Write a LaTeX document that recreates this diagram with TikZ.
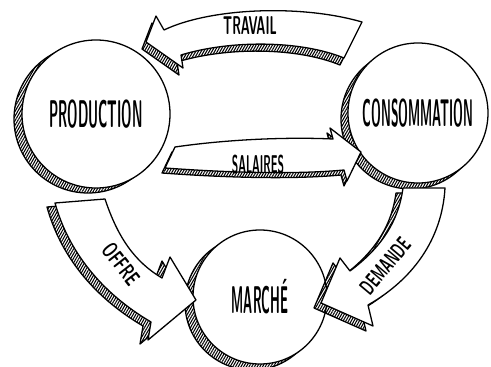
\documentclass[tikz,border=0pt]{standalone}
\usetikzlibrary{patterns.meta}
\tikzset{
  ink/.style={line width=1.1pt, line join=round},
  hatch/.style={ink, pattern={Lines[angle=60,distance=2pt,line width=0.9pt]}},
  face/.style={ink, fill=white},
  bubble/.style={circle, draw, ink, fill=white, inner sep=0pt, font=\fontsize{33}{33}\selectfont\sffamily\bfseries},
  lbl/.style={inner sep=0pt, font=\fontsize{22}{22}\selectfont\sffamily\bfseries}
}
\begin{document}
\begin{tikzpicture}[x=0.03cm,y=-0.03cm]
\useasboundingbox (0,0) rectangle (491,367);
\fill[white] (0,0) rectangle (491,367);

% circles with hatched shadows
\draw[hatch] (88,119) circle (74);
\node[bubble, minimum size=4.44cm] (prod) at (96,114) {\scalebox{0.34}[1]{PRODUCTION}};
\draw[hatch] (411,119) circle (70);
\node[bubble, minimum size=4.2cm] (cons) at (418,113) {\scalebox{0.32}[1]{CONSOMMATION}};
\draw[hatch] (252,303) circle (67);
\node[bubble, minimum size=4.02cm] (marche) at (260,297) {\scalebox{0.32}[1]{MARCHÉ}};

% arrow outlines
\def\travail{(362,22) .. controls (300,4) and (210,8) .. (164,30) -- (156,16) -- (146,42) -- (183,68) -- (181,55) .. controls (230,40) and (300,40) .. (344,58) -- cycle}
\def\salaires{(175,147) .. controls (230,139) and (290,137) .. (333,139) -- (330,128) -- (361,152) -- (347,181) -- (344,170) .. controls (290,175) and (220,172) .. (165,168) -- cycle}
\def\offre{(55,203) -- (105,199) .. controls (118,238) and (135,262) .. (162,278) -- (170,257) -- (196,300) -- (148,340) -- (151,322) .. controls (100,292) and (68,250) .. (55,203) -- cycle}
\def\demande{(403,188) -- (445,188) .. controls (442,240) and (412,280) .. (368,305) -- (373,326) -- (321,303) -- (340,258) -- (350,271) .. controls (378,250) and (398,225) .. (403,188) -- cycle}

% TRAVAIL
\draw[hatch, shift={(-4,7)}] \travail;
\draw[face] \travail;
\node[lbl] (ltravail) at (250,26) {\scalebox{0.48}[1]{TRAVAIL}};

% SALAIRES
\draw[hatch, shift={(-3,5)}] \salaires;
\draw[face] \salaires;
\node[lbl] (lsalaires) at (258,165) {\scalebox{0.41}[1]{SALAIRES}};

% OFFRE
\draw[hatch, shift={(-8,4)}] \offre;
\draw[face] \offre;
\node[lbl, rotate=-52] (loffre) at (121,264) {\scalebox{0.62}[1]{\fontsize{19}{19}\selectfont OFFRE}};

% DEMANDE
\draw[hatch, shift={(-7,5)}] \demande;
\draw[face] \demande;
\node[lbl, rotate=50] (ldemande) at (385,266) {\scalebox{0.55}[1]{\fontsize{19}{19}\selectfont DEMANDE}};
\end{tikzpicture}
\end{document}
